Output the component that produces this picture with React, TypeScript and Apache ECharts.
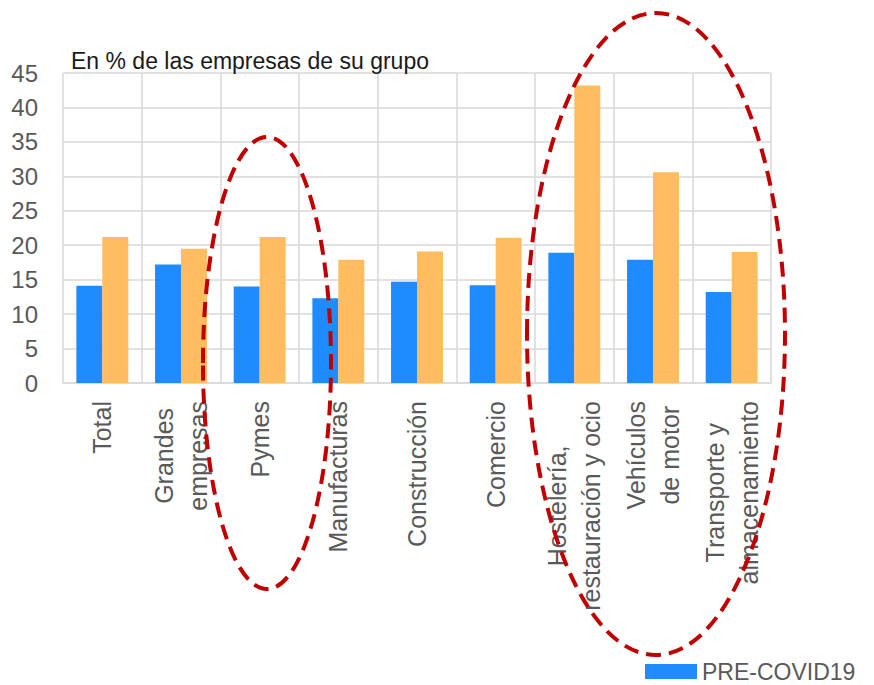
import React, { useEffect, useRef } from "react";
import * as echarts from "echarts";

const FONT = "'Liberation Sans', Helvetica, Arial, sans-serif";

const categories = [
  "Total",
  "Grandes\nempresas",
  "Pymes",
  "Manufacturas",
  "Construcción",
  "Comercio",
  "Hostelería,\nrestauración y ocio",
  "Vehículos\nde motor",
  "Transporte y\nalmacenamiento",
];

const preCovid = [14.1, 17.2, 14.0, 12.3, 14.7, 14.2, 18.9, 17.9, 13.2];
const covid = [21.2, 19.5, 21.2, 17.9, 19.1, 21.1, 43.2, 30.6, 19.0];

const yTicks = { min: 0, max: 45, interval: 5 };

const seriesNames = ["PRE-COVID19", "COVID19"];

export default function App() {
  const ref = useRef<HTMLDivElement>(null);

  useEffect(() => {
    document.body.style.margin = "0";
    const chart = echarts.init(ref.current!, null, { renderer: "svg" });
    chart.setOption({
      animation: false,
      backgroundColor: "#ffffff",
      title: {
        text: "En % de las empresas de su grupo",
        left: 66,
        top: 44,
        textStyle: {
          fontFamily: FONT,
          fontSize: 23,
          fontWeight: "normal",
          color: "#1a1a1a",
        },
      },
      legend: {
        data: [seriesNames[0]],
        left: 645,
        top: 660,
        padding: 0,
        icon: "rect",
        itemWidth: 52,
        itemHeight: 15,
        textStyle: { fontFamily: FONT, fontSize: 23, color: "#595959" },
      },
      grid: { left: 63, right: 103, top: 73, bottom: 302 },
      xAxis: {
        type: "category",
        data: categories,
        axisLine: { show: true, lineStyle: { color: "#d9d9d9", width: 1.5 } },
        axisTick: { show: false },
        splitLine: { show: true, lineStyle: { color: "#d9d9d9", width: 1.5 } },
        axisLabel: {
          interval: 0,
          rotate: 90,
          margin: 18,
          color: "#595959",
          fontFamily: FONT,
          fontSize: 25,
          formatter: (v: string) =>
            v
              .split("\n")
              .map((l) => `{c|${l}}`)
              .join("\n"),
          rich: {
            c: {
              align: "center",
              fontFamily: FONT,
              fontSize: 25,
              lineHeight: 34,
              color: "#595959",
            },
          },
        },
      },
      yAxis: {
        type: "value",
        min: yTicks.min,
        max: yTicks.max,
        interval: yTicks.interval,
        axisLine: { show: false },
        axisTick: { show: false },
        splitLine: { lineStyle: { color: "#d9d9d9", width: 1.5 } },
        axisLabel: {
          margin: 25,
          color: "#595959",
          fontFamily: FONT,
          fontSize: 24,
        },
      },
      series: [
        {
          name: seriesNames[0],
          type: "bar",
          data: preCovid,
          barGap: "0%",
          barCategoryGap: "34%",
          itemStyle: { color: "#1e8cff" },
        },
        {
          name: seriesNames[1],
          type: "bar",
          data: covid,
          barGap: "0%",
          barCategoryGap: "34%",
          itemStyle: { color: "#ffbd5f" },
        },
      ],
      graphic: [
        {
          type: "ellipse",
          shape: { cx: 267, cy: 363, rx: 64, ry: 226 },
          style: {
            fill: "none",
            stroke: "#c00000",
            lineWidth: 4,
            lineDash: [15, 8],
          },
          z: 100,
        },
        {
          type: "ellipse",
          shape: { cx: 656, cy: 334, rx: 129, ry: 321 },
          style: {
            fill: "none",
            stroke: "#c00000",
            lineWidth: 4,
            lineDash: [15, 8],
          },
          z: 100,
        },
      ],
    });
    return () => chart.dispose();
  }, []);

  return <div ref={ref} style={{ width: 874, height: 685 }} />;
}
